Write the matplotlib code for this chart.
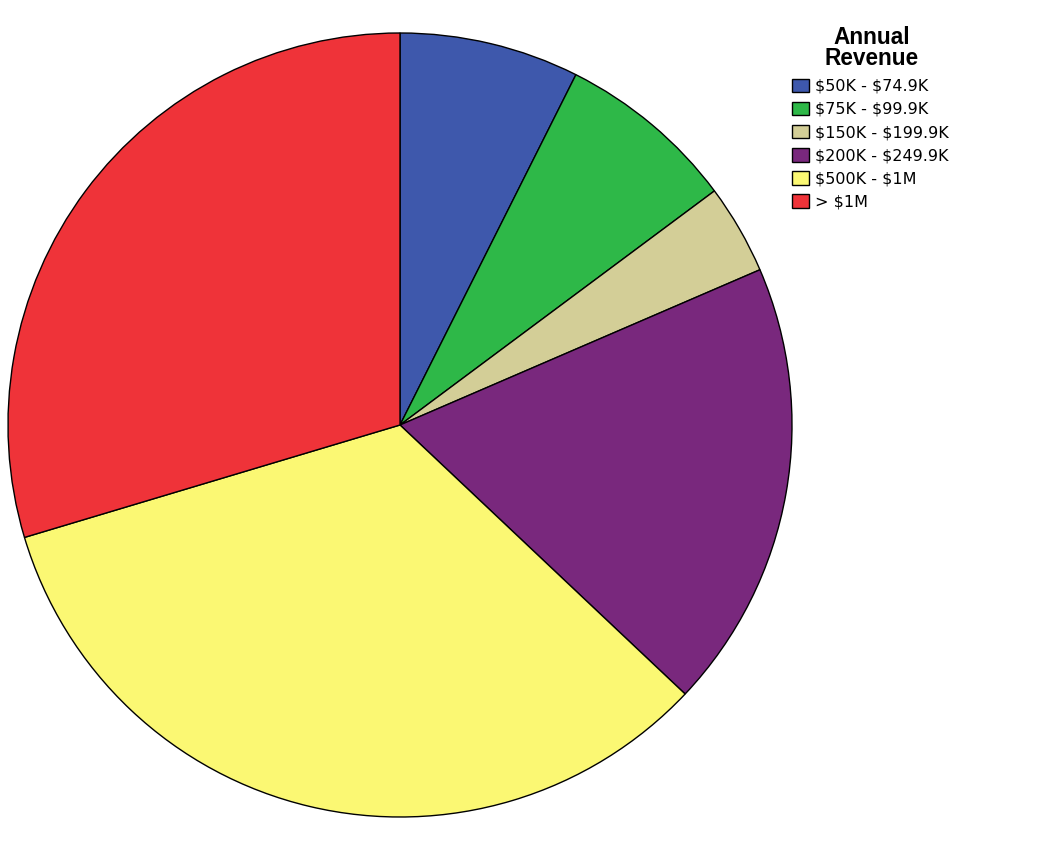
import matplotlib.pyplot as plt

# revenue bands and number of respondents in each
labels = ["\\$50K - \\$74.9K", "\\$75K - \\$99.9K", "\\$150K - \\$199.9K",
          "\\$200K - \\$249.9K", "\\$500K - \\$1M", "> \\$1M"]
counts = [2, 2, 1, 5, 9, 8]
colors = ["#3e58ac", "#2eb848", "#d3ce97", "#79287d", "#fbf873", "#ef3339"]

plt.rcParams["font.family"] = ["DejaVu Sans"]

W, H = 1053, 846
fig = plt.figure(figsize=(W / 100, H / 100), dpi=100)
cx, cy, r = 400, 425, 392
ax = fig.add_axes([(cx - r) / W, (H - cy - r) / H, 2 * r / W, 2 * r / H])

wedges, _ = ax.pie(counts, colors=colors, startangle=90, counterclock=False,
                   wedgeprops=dict(edgecolor="black", linewidth=1))
ax.set_xlim(-1, 1)
ax.set_ylim(-1, 1)
ax.set_aspect("equal")
ax.axis("off")

# legend title drawn separately so the gap below it can be set freely
fig.text(872 / W, 1 - 25.5 / H, "Annual\nRevenue", ha="center", va="top",
         multialignment="center", family="Liberation Sans", weight="bold",
         size=16.3, linespacing=0.9)

fs = 11.5
leg = fig.legend(wedges, labels, loc="upper left",
                 bbox_to_anchor=(792 / W, 1 - 78.5 / H),
                 frameon=False, fontsize=fs, handlelength=1.06, handleheight=0.94,
                 handletextpad=0.37, labelspacing=0.49, borderpad=0,
                 borderaxespad=0)
for h in leg.legend_handles:
    h.set_edgecolor("black")
    h.set_linewidth(1)

fig.savefig("out.png", dpi=100)
